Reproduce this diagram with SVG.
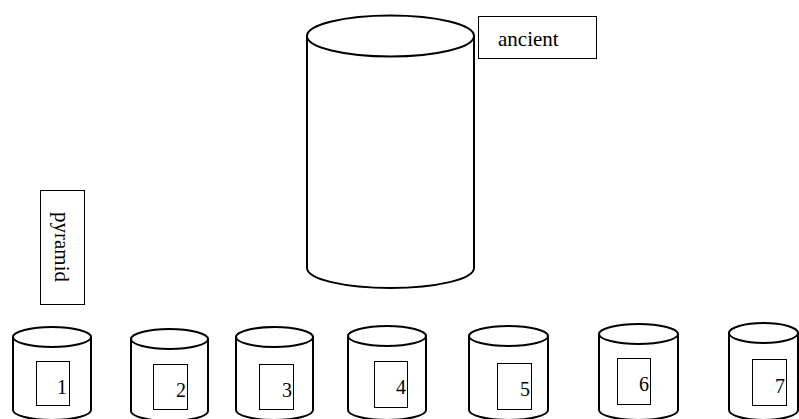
<svg xmlns="http://www.w3.org/2000/svg" width="799" height="419" viewBox="0 0 799 419">
<style>
.cyl{fill:#fff;stroke:#000;stroke-width:2}
.box{fill:#fff;stroke:#000;stroke-width:1}
.lbl{font-family:"Liberation Serif","Times New Roman",serif;font-size:21px;fill:#000}
.num{font-family:"Liberation Serif","Times New Roman",serif;font-size:20px;fill:#000;text-anchor:end}
</style>
<rect width="799" height="419" fill="#fff"/>
<g id="ancient-cylinder">
<path class="cyl" d="M307,36 L307,268 A83.5,20 0 0 0 474,268 L474,36"/>
<ellipse class="cyl" cx="390.5" cy="36" rx="83.5" ry="20.5"/>
</g>
<g id="ancient-label">
<rect class="box" x="478.5" y="16.5" width="118" height="42"/>
<text class="lbl" x="498" y="46">ancient</text>
</g>
<g id="pyramid-label">
<rect class="box" x="40.5" y="190.5" width="44" height="114"/>
<text class="lbl" text-anchor="middle" transform="translate(55,247) rotate(90)">pyramid</text>
</g>
<g id="cyl1">
<path class="cyl" d="M13,337 L13,410 A39,10 0 0 0 91,410 L91,337"/>
<ellipse class="cyl" cx="52" cy="337" rx="39" ry="10"/>
<rect class="box" x="36.5" y="361.5" width="33" height="44"/>
<text class="num" x="67" y="394">1</text>
</g>
<g id="cyl2">
<path class="cyl" d="M131,339 L131,411 A38.5,10 0 0 0 208,411 L208,339"/>
<ellipse class="cyl" cx="169.5" cy="339" rx="38.5" ry="10"/>
<rect class="box" x="153.5" y="364.5" width="34" height="45"/>
<text class="num" x="186" y="397">2</text>
</g>
<g id="cyl3">
<path class="cyl" d="M236,337 L236,410 A38.5,10 0 0 0 313,410 L313,337"/>
<ellipse class="cyl" cx="274.5" cy="337" rx="38.5" ry="10"/>
<rect class="box" x="259.5" y="364.5" width="34" height="45"/>
<text class="num" x="292" y="397">3</text>
</g>
<g id="cyl4">
<path class="cyl" d="M348,336 L348,410 A39,10 0 0 0 426,410 L426,336"/>
<ellipse class="cyl" cx="387" cy="336" rx="39" ry="10"/>
<rect class="box" x="374.5" y="361.5" width="33" height="46"/>
<text class="num" x="406" y="394">4</text>
</g>
<g id="cyl5">
<path class="cyl" d="M469,336 L469,410 A39.5,10 0 0 0 548,410 L548,336"/>
<ellipse class="cyl" cx="508.5" cy="336" rx="39.5" ry="10"/>
<rect class="box" x="497.5" y="363.5" width="34" height="46"/>
<text class="num" x="530" y="396">5</text>
</g>
<g id="cyl6">
<path class="cyl" d="M599,334 L599,410 A39.5,10 0 0 0 678,410 L678,334"/>
<ellipse class="cyl" cx="638.5" cy="334" rx="39.5" ry="10"/>
<rect class="box" x="617.5" y="358.5" width="33" height="46"/>
<text class="num" x="649" y="391">6</text>
</g>
<g id="cyl7">
<path class="cyl" d="M729,333 L729,410 A34.5,10 0 0 0 798,410 L798,333"/>
<ellipse class="cyl" cx="763.5" cy="333" rx="34.5" ry="10"/>
<rect class="box" x="752.5" y="359.5" width="34" height="46"/>
<text class="num" x="785" y="393">7</text>
</g>
<g id="connectors"/>
</svg>
